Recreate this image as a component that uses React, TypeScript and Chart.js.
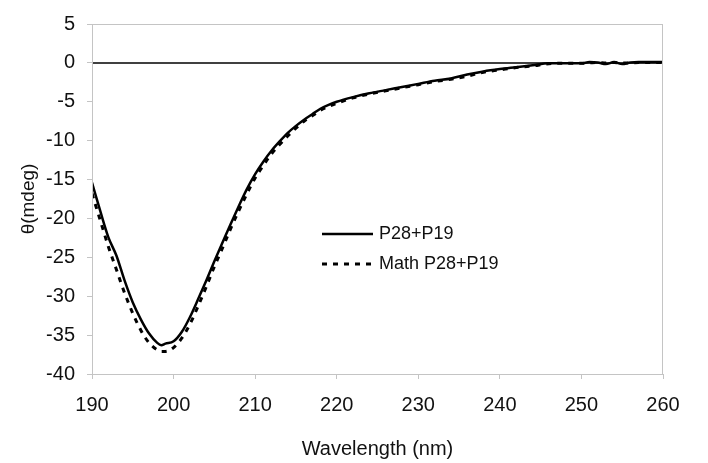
import React, { useEffect, useRef } from "react";
import { Chart, registerables } from "chart.js";

Chart.register(...registerables);

const WAVELENGTHS = [
  190, 191, 192, 193, 194, 195, 196, 197, 198, 198.5, 199, 200, 201, 202, 203, 204, 205, 206, 207, 208,
  209, 210, 211, 212, 213, 214, 215, 216, 217, 218, 219, 220, 222, 224, 226, 228, 230, 232, 234, 236,
  238, 240, 242, 244, 246, 248, 250, 251, 252, 253, 254, 255, 256, 257, 258, 260,
];

const P28_P19 = [
  -15.4, -19.0, -22.4, -24.8, -28.0, -30.8, -33.0, -34.8, -36.0, -36.3,
  -36.1, -35.8, -34.6, -32.7, -30.4, -28.0, -25.5, -23.1, -20.7, -18.4, -16.2, -14.3, -12.7, -11.3,
  -10.1, -9.0, -8.1, -7.3, -6.6, -5.9, -5.4, -5.0,
  -4.4, -3.9, -3.5, -3.1, -2.7, -2.3, -2.0, -1.5, -1.1, -0.8, -0.55, -0.3, -0.05, -0.05, -0.05,
  0.1, 0.05, -0.15, 0.1, -0.15, 0.05, 0.1, 0.1, 0.1,
];

const MATH_P28_P19 = [
  -16.8, -20.2, -23.6, -26.6, -29.6, -32.2, -34.4, -36.0, -36.9, -37.1,
  -37.1, -36.6, -35.4, -33.6, -31.3, -28.8, -26.2, -23.8, -21.3, -19.0, -16.8, -14.8, -13.2, -11.7,
  -10.5, -9.4, -8.4, -7.5, -6.8, -6.1, -5.6, -5.2,
  -4.5, -4.0, -3.6, -3.2, -2.8, -2.4, -2.1, -1.7, -1.2, -0.9, -0.6, -0.4, -0.1, -0.05, -0.05,
  0.0, 0.05, 0.0, 0.05, 0.0, 0.0, 0.05, 0.05, 0.05,
];

const ZERO_LINE_X = [190, 260];
const ZERO_LINE_Y = [0, 0];

const SERIES_NAMES = ["P28+P19", "Math P28+P19"];
const X_TITLE = "Wavelength (nm)";
const Y_TITLE = "θ(mdeg)";

const FONT = "'Liberation Sans', Arial, sans-serif";
const GRAY = "#c4c4c4";

const toPoints = (xs: number[], ys: number[]) => xs.map((x, i) => ({ x, y: ys[i] }));

const frameAndLegend = {
  id: "frameAndLegend",
  afterDatasetsDraw(chart: any) {
    const { ctx, chartArea } = chart;
    ctx.save();
    ctx.strokeStyle = GRAY;
    ctx.lineWidth = 1;
    ctx.strokeRect(chartArea.left + 0.5, chartArea.top + 0.5, chartArea.right - chartArea.left - 1, chartArea.bottom - chartArea.top);
    const lx = chartArea.left + 230;
    const ly = chartArea.top + 210;
    const rows = [
      { name: SERIES_NAMES[0], dash: [] as number[], width: 2.5 },
      { name: SERIES_NAMES[1], dash: [5, 6], width: 3 },
    ];
    rows.forEach((r, i) => {
      const y = ly + i * 30;
      ctx.beginPath();
      ctx.setLineDash(r.dash);
      ctx.strokeStyle = "#000";
      ctx.lineWidth = r.width;
      ctx.moveTo(lx, y);
      ctx.lineTo(lx + 51, y);
      ctx.stroke();
      ctx.setLineDash([]);
      ctx.fillStyle = "#111";
      ctx.font = `18px ${FONT}`;
      ctx.textBaseline = "middle";
      ctx.textAlign = "left";
      ctx.fillText(r.name, lx + 57, y);
    });
    ctx.restore();
  },
};

export default function App() {
  const ref = useRef<HTMLCanvasElement | null>(null);

  useEffect(() => {
    document.body.style.margin = "0";
    if (!ref.current) return;
    const chart = new Chart(ref.current, {
      type: "line",
      data: {
        datasets: [
          {
            label: "zero",
            data: toPoints(ZERO_LINE_X, ZERO_LINE_Y),
            borderColor: "#000",
            borderWidth: 1.5,
            pointRadius: 0,
            order: 3,
          },
          {
            label: SERIES_NAMES[1],
            data: toPoints(WAVELENGTHS, MATH_P28_P19),
            borderColor: "#000",
            borderWidth: 3,
            borderDash: [5, 6],
            pointRadius: 0,
            cubicInterpolationMode: "monotone",
            order: 2,
          },
          {
            label: SERIES_NAMES[0],
            data: toPoints(WAVELENGTHS, P28_P19),
            borderColor: "#000",
            borderWidth: 2.5,
            pointRadius: 0,
            cubicInterpolationMode: "monotone",
            order: 1,
          },
        ],
      },
      options: {
        animation: false,
        responsive: false,
        maintainAspectRatio: false,
        layout: { padding: { top: 23, right: 45, left: 0, bottom: 0 } },
        plugins: { legend: { display: false }, tooltip: { enabled: false } },
        scales: {
          x: {
            type: "linear",
            min: 190,
            max: 260,
            afterFit: (s: any) => {
              s.height = 89;
            },
            ticks: {
              stepSize: 10,
              color: "#111",
              font: { family: FONT, size: 20 },
              padding: 14,
              maxRotation: 0,
            },
            grid: { drawOnChartArea: false, drawTicks: true, tickLength: 5, color: GRAY },
            border: { display: true, color: GRAY },
            title: {
              display: true,
              text: X_TITLE,
              color: "#111",
              font: { family: FONT, size: 20 },
              padding: { top: 0, bottom: 2 },
            },
          },
          y: {
            type: "linear",
            min: -40,
            max: 5,
            afterFit: (s: any) => {
              s.width = 92;
            },
            ticks: {
              stepSize: 5,
              color: "#111",
              font: { family: FONT, size: 20 },
              padding: 12,
            },
            grid: { drawOnChartArea: false, drawTicks: true, tickLength: 5, color: GRAY },
            border: { display: true, color: GRAY },
            title: {
              display: true,
              text: Y_TITLE,
              color: "#111",
              font: { family: FONT, size: 19 },
              padding: { top: 17, bottom: 0 },
            },
          },
        },
      },
      plugins: [frameAndLegend],
    } as any);
    return () => chart.destroy();
  }, []);

  return (
    <div style={{ width: 708, height: 463, background: "#fff" }}>
      <canvas ref={ref} width={708} height={463} style={{ display: "block", width: 708, height: 463 }} />
    </div>
  );
}
